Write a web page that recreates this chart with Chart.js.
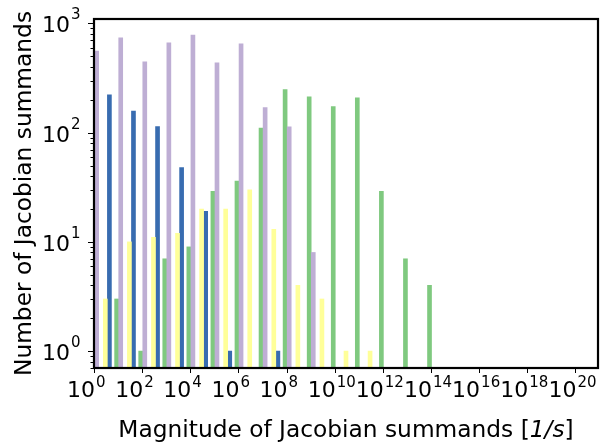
<!DOCTYPE html>
<html>
<head>
<meta charset="utf-8">
<script src="https://cdn.jsdelivr.net/npm/chart.js@4.4.1/dist/chart.umd.min.js"></script>
<style>
  html, body { margin: 0; padding: 0; background: #fff; }
  #wrap { width: 604px; height: 442px; }
</style>
</head>
<body>
<div id="wrap"><canvas id="jacobianHist" width="604" height="442"></canvas></div>
<script>
// histogram bins: one per decade, bin k covers 10^k .. 10^(k+1)
const decades = [0, 1, 2, 3, 4, 5, 6, 7, 8, 9, 10, 11, 12, 13];

// number of summands per decade (null = empty bin)
const purpleCounts = [560, 740, 445, 665, 785, 435, 650, 170, 113, 8, null, null, null, null];
const blueCounts   = [222, 158, 114, 48, 19, 1, null, 1, null, null, null, null, null, null];
const yellowCounts = [3, 10, 11, 12, 20, 20, 30, 13, 4, 3, 1, 1, null, null];
const greenCounts  = [3, 1, 7, 9, 29, 36, 110, 248, 213, 173, 209, 29, 7, 4];

// labelled powers of ten on each axis
const xTickExponents = [0, 2, 4, 6, 8, 10, 12, 14, 16, 18, 20];
const yTickExponents = [0, 1, 2, 3];

const FAMILY = '"DejaVu Sans", sans-serif';
const TITLE_SIZE = 23.3;

// each series sits at its own place inside a decade bin
function series(counts, shift, color) {
  const points = [];
  decades.forEach((d, i) => {
    if (counts[i] != null) points.push({ x: Math.pow(10, d + shift), y: counts[i] });
  });
  return {
    data: points,
    backgroundColor: color,
    borderWidth: 0,
    grouped: false,
    barThickness: 4
  };
}

// 10 with a raised exponent
function drawPow(ctx, exp, xRight, baseline, size, supSize, rise) {
  ctx.font = size + 'px ' + FAMILY;
  ctx.textAlign = 'right';
  ctx.textBaseline = 'alphabetic';
  ctx.fillText('10', xRight, baseline);
  ctx.font = supSize + 'px ' + FAMILY;
  ctx.textAlign = 'left';
  ctx.fillText(String(exp), xRight + 1, baseline - rise);
}

const axisDecor = {
  id: 'axisDecor',
  afterDraw(chart) {
    const { ctx, chartArea: area, scales: { x, y } } = chart;
    ctx.save();
    ctx.strokeStyle = '#000';
    ctx.fillStyle = '#000';

    // tick marks
    ctx.lineWidth = 1;
    y.ticks.forEach(t => {
      const py = Math.round(y.getPixelForValue(t.value)) + 0.5;
      const len = t.major ? 6 : 3.5;
      ctx.beginPath();
      ctx.moveTo(area.left - len, py);
      ctx.lineTo(area.left, py);
      ctx.stroke();
    });
    x.ticks.forEach(t => {
      const px = Math.round(x.getPixelForValue(t.value)) + 0.5;
      ctx.beginPath();
      ctx.moveTo(px, area.bottom);
      ctx.lineTo(px, area.bottom + 5);
      ctx.stroke();
    });

    // frame round the plot
    ctx.lineWidth = 2.2;
    ctx.strokeRect(area.left, area.top, area.right - area.left, area.bottom - area.top);

    // tick labels
    x.ticks.forEach(t => {
      const px = x.getPixelForValue(t.value);
      drawPow(ctx, Math.round(Math.log10(t.value)), px + 1, area.bottom + 29, 22, 15, 10);
    });
    y.ticks.filter(t => t.major).forEach(t => {
      const py = y.getPixelForValue(t.value);
      drawPow(ctx, Math.round(Math.log10(t.value)), area.left - 24, py + 9, 22, 15, 13);
    });

    // x axis title, unit in italics
    const size = TITLE_SIZE + 'px ';
    const parts = [
      { text: 'Magnitude of Jacobian summands [', font: size + FAMILY },
      { text: '1/s', font: 'italic ' + size + FAMILY },
      { text: ']', font: size + FAMILY }
    ];
    let total = 0;
    parts.forEach(p => { ctx.font = p.font; p.w = ctx.measureText(p.text).width; total += p.w; });
    let cx = (area.left + area.right) / 2 - total / 2;
    ctx.textAlign = 'left';
    parts.forEach(p => { ctx.font = p.font; ctx.fillText(p.text, cx, 437); cx += p.w; });

    ctx.restore();
  }
};

new Chart(document.getElementById('jacobianHist'), {
  type: 'bar',
  data: {
    datasets: [
      series(purpleCounts, 0.11, '#beaed4'),
      series(yellowCounts, 0.47, '#ffff99'),
      series(blueCounts, 0.64, '#386cb0'),
      series(greenCounts, 0.94, '#7fc97f')
    ]
  },
  options: {
    responsive: false,
    animation: false,
    layout: { padding: { top: 19, right: 6, left: 0, bottom: 0 } },
    plugins: { legend: { display: false }, tooltip: { enabled: false } },
    scales: {
      x: {
        type: 'logarithmic',
        min: 1,
        max: Math.pow(10, 20.94),
        offset: false,
        grid: { display: false },
        border: { display: false },
        ticks: { display: false },
        afterBuildTicks(scale) {
          scale.ticks = xTickExponents.map(e => ({ value: Math.pow(10, e), major: true }));
        },
        afterFit(scale) { scale.height = 74; }
      },
      y: {
        type: 'logarithmic',
        min: 0.73,
        max: 1099,
        grid: { display: false },
        border: { display: false },
        ticks: { display: false },
        title: {
          display: true,
          text: 'Number of Jacobian summands',
          color: '#000',
          font: { family: FAMILY, size: TITLE_SIZE },
          padding: { top: 11 }
        },
        afterBuildTicks(scale) {
          const ticks = [];
          for (let e = yTickExponents[0] - 1; e <= yTickExponents[yTickExponents.length - 1]; e++) {
            for (let m = 1; m < 10; m++) {
              const v = m * Math.pow(10, e);
              if (v >= scale.min && v <= scale.max) ticks.push({ value: v, major: m === 1 });
            }
          }
          scale.ticks = ticks;
        },
        afterFit(scale) { scale.width = 94; }
      }
    }
  },
  plugins: [axisDecor]
});
</script>
</body>
</html>
